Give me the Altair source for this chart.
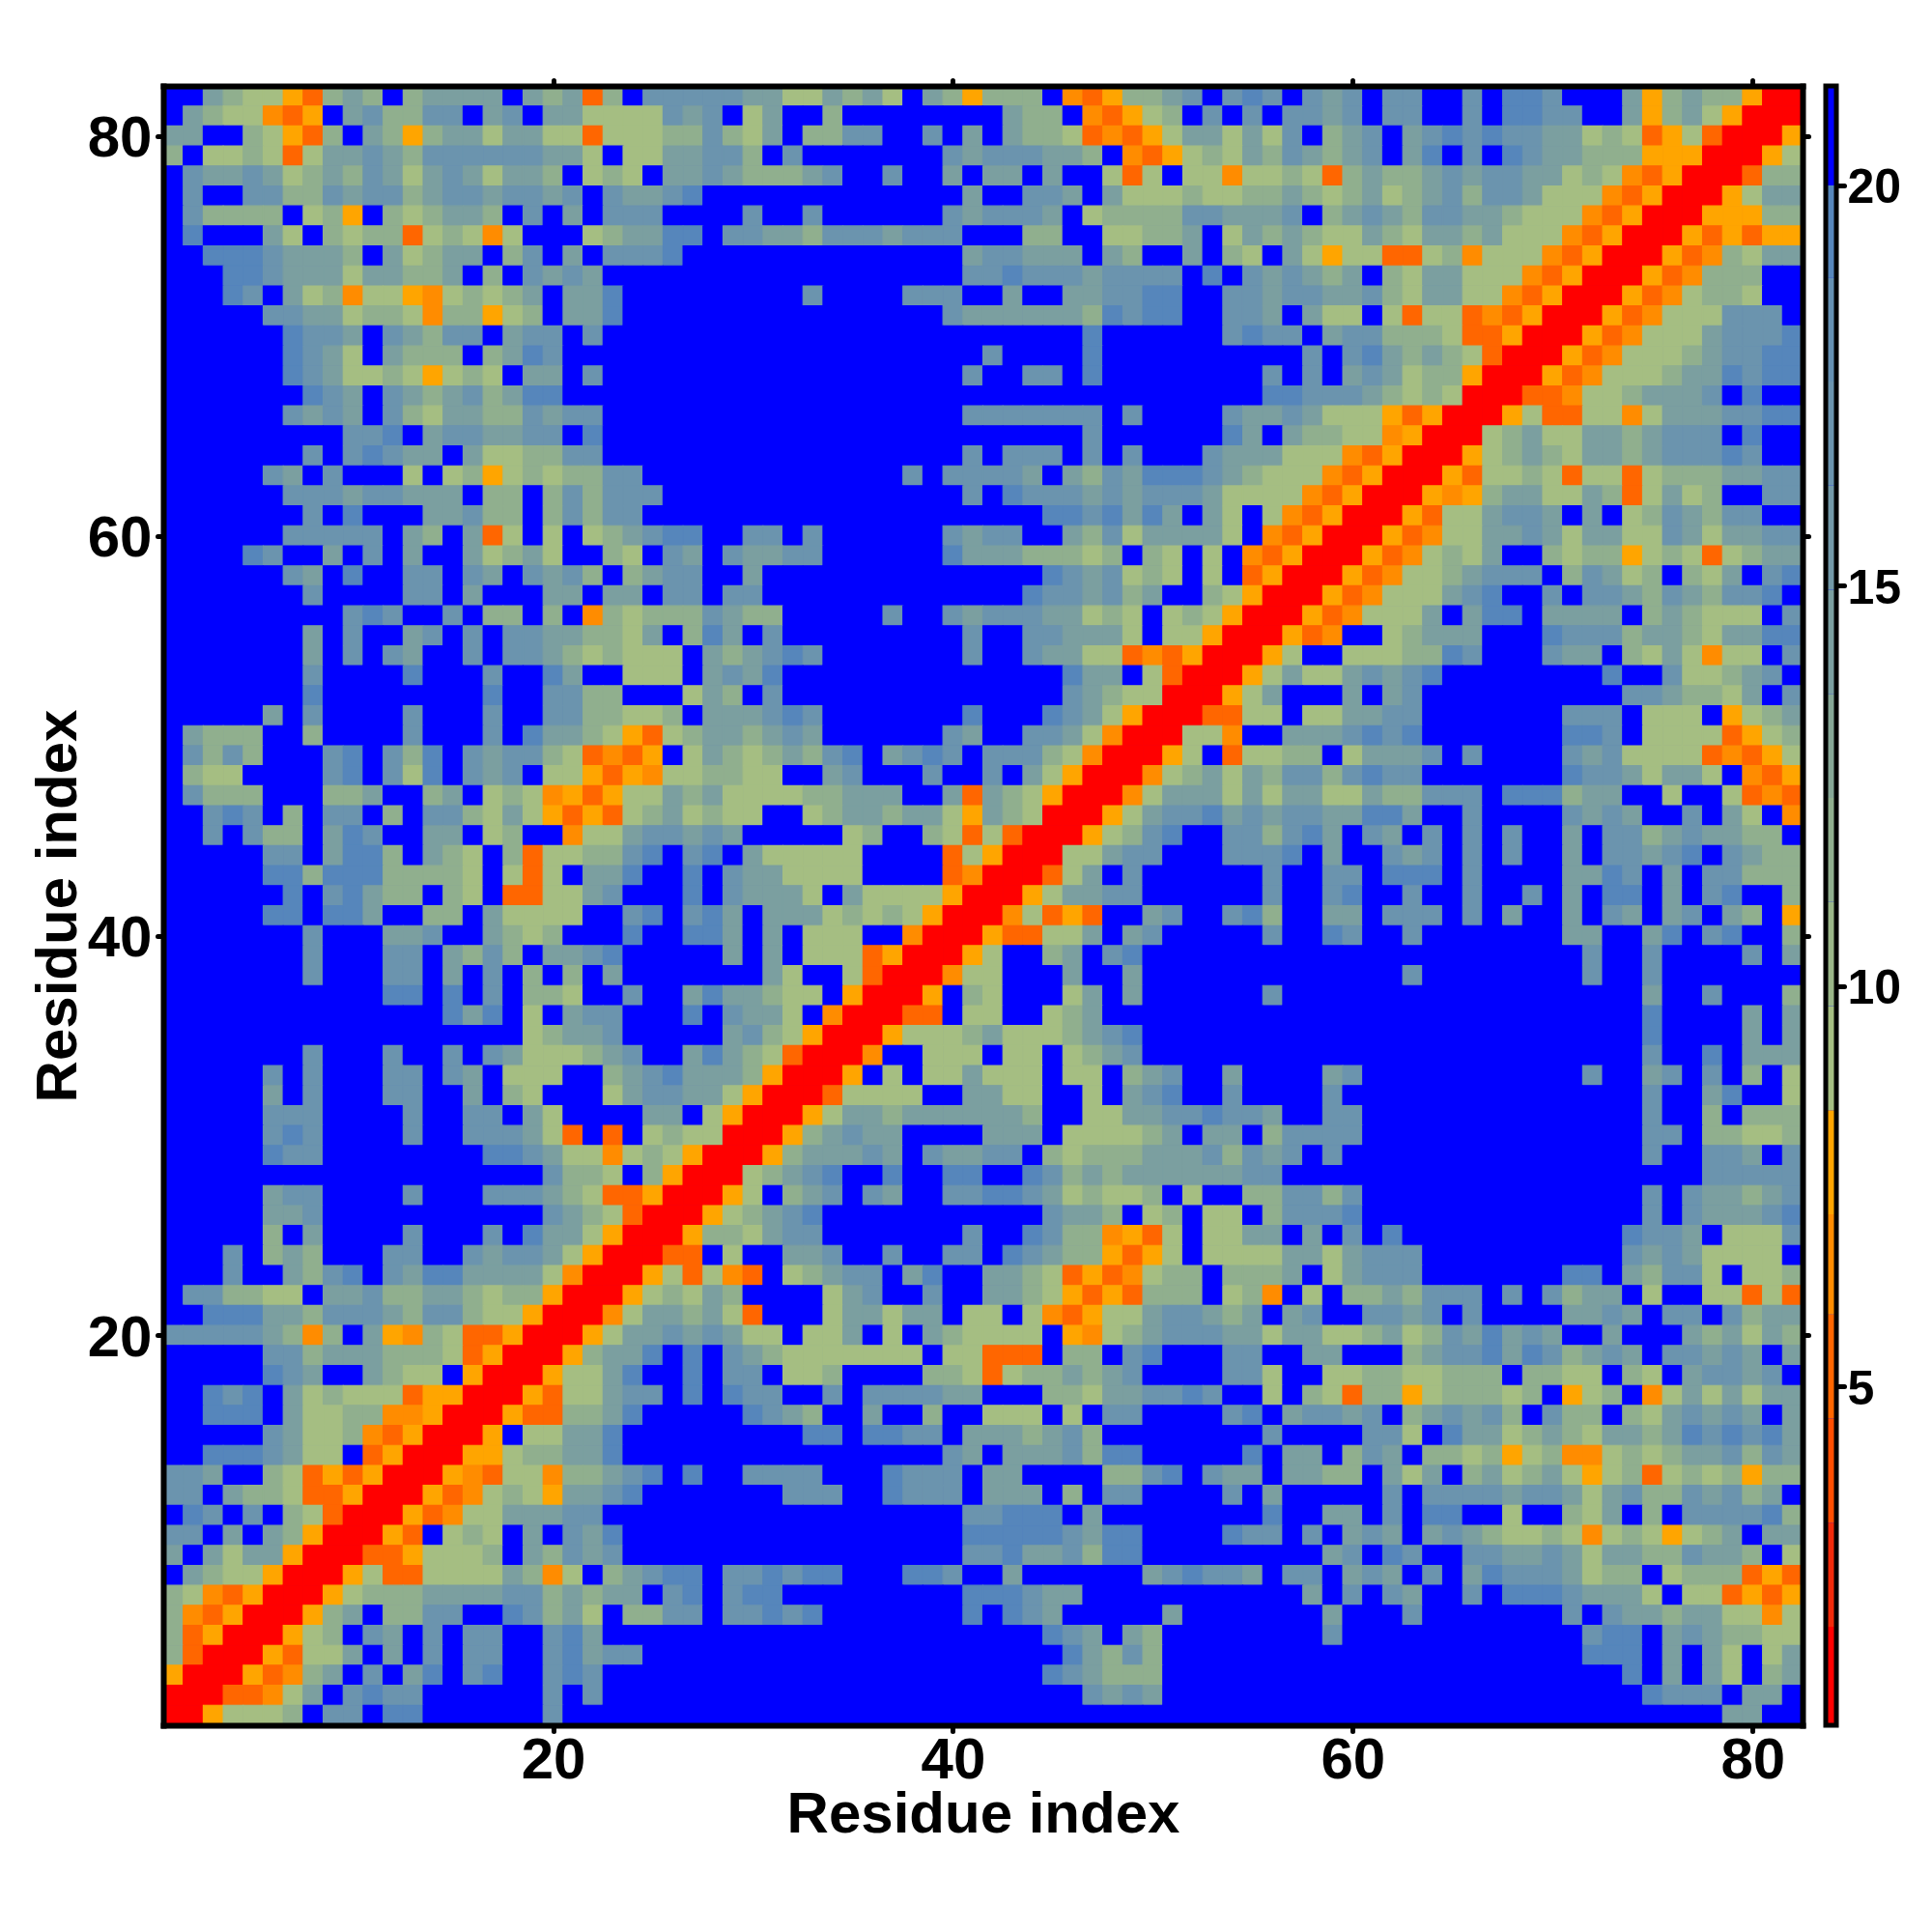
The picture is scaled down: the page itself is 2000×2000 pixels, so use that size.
import altair as alt
import pandas as pd

alt.data_transformers.disable_max_rows()

# Each list has one string per residue row, from row 82 (top) down to row 1.
# Letters are colour bands of the distance.
LEFT = [
"BBcbaaYobcbBbccccBcbcobBdddd","BcbaaOoYBcdbbddBcdBccaaaadcd","ccBBbaYobBcbYbccaccaaoaaabbd","bBaabaoaccdcbddddddccaBaaccd",
"BdccdcabcbdcacdcaccbBabaBccd","BdBBddbbdcddbcddcddcdBdccdeB","BdbbbbBabYBbabccbBdBcBdddBBB","BeBBBcaBbabboabaOaBBBabcceeB",
"BBeeedcccbBcabccBbdBcBdddeBB","BBBeedcccaccbbcBbBdcdcBBBBBB","BBBedBcabOaaYOababcBcceBBBBB","BBBBBddccabbaObbYabBcceBBBBB",
"BBBBBBeddcBdcbddBcddBdBBBBBB","BBBBBBedcaBcbbbBbcedBBBBBBBB","BBBBBBedcaabaYabaBccBdBBBBBB","BBBBBBBedcBdcbcdbceeBBBBBBBB",
"BBBBBBdcdcBdbaccbbdcddBBBBBB","BBBBBBBBBddeBcddccddBeBBBBBB","BBBBBBBdBdedccBcaabbddBBBBBB","BBBBBdcBdBBBaBabYababbddBBBB",
"BBBBBBdddcddcccBbbBbdbdddBBB","BBBBBBBdBeBBBccdbbBbdbddBBBB","BBBBBBdddddBcbBcoaBaBabcdeeB","BBBBedBBcBdBcBBcabcaBBbaBdcB",
"BBBBBBdcBeBBddBdcBdcdbBbcddB","BBBBBBBdBBBBddBcBBBccBccBddB","BBBBBBBBBdedBBdBbbBbBObabbbd",
"BBBBBBBcBdBBcdBdBddccbbacBbe","BBBBBBBcBdBdcBBdBddcbabaaaBc","BBBBBBBdBBBBeBBBdBBecBBaaaBc","BBBBBBBeBBBBBBBBeBBddbbBBBac",
"BBBBBcBdBBBBdBBBdBBddbbaabBc","BcbbbBBbBBBBdBBBdBeccbaYoabc","BdbdbBBBdeBdbeBdcddbaoOoYBac","BbaaBBBBdeBdaeBdcdBaaYoYOaab",
"BdbbbBBBbbcBBbcBabaOYoYaacbc","BBdedBbBddBbBddbacaYoYoabcab","BBdBdbbBcedBBccBabBBOaacddcd","BBBBBddBceebBcbaBboaabbdeBde",
"BBBBBeebeeebbbbaBaoaBcceBBeB","BBBBBBeBdecbbBbaBooaacdBBBeB","BBBBBeeBeecBBbbBcaaaaBBdeBde","BBBBBBBdBBBccdBBcbabBBBeBBee",
"BBBBBBBdBBBddBcbdbBccdeBBBBB","BBBBBBBdBBBddBcBdBbBbBcBBBBB","BBBBBBBBBBBeeBeBdBbbaBBdBBce","BBBBBBBBBBBBBBeceBaBcddBBBeB",
"BBBBBBBBBBBBBBBBBBabccdBBBBB","BBBBBBBdBBBdBBdBdcaaabcdBBce","BBBBBdBdBBBddBdcBaaaBBbcdecc","BBBBBcBdBBBddBBcBbaBBBacddcc",
"BBBBBdddBBBBdBBddBcaBBBBccBa","BBBBBdedBBBBdBBdddcaoBoBabaa","BBBBBeddBBBBBBBBeedcaaOabaYR","BBBBBBBBBBBBBBBBBBBdbbaBbYRR",
"BBBBBcddBBBBdBBBdddcbaooYRRR","BBBBBccdBBBBBBBBBBBdcbaoRRRY","BBBBBbBcBBBBdBBBdBeccaYRRRYb","BBBdBbcbBBBddBBdcddcaYRRRooB",
"BBBdBBcbdeBdceeccccaORRRYaoa","BddbbaaBccdbbccbabbYRRRYabac","BBeeeccbdddcbddbaaYRRROaccbc","dddddcbObBcYObaooYRRRYaccdcd",
"BBBBBddbcccbbbaoYRRRYbcceBeB","BBBBBedcBBcbaaBYRRRYaaceBBeB","BBedeBcabaaaoYYRRRYoaacddBeB","BBeeeBcaabbOOYRRRYoobbceBBBB",
"BBBBBdcaabOoYRRRYBaacceBBBBB","BBeeedcaaBoYRRRYYabbcceBBBBB","ddcBBbaoYoYRRRYOoaaObbcdeBeB","ddBcbbaooYRRRYoOabaYccdeBBBB",
"BedBdBbaoRRRYoOaacccddBBBBBB","ddBcBcbYRRRYoBabaBcBdceBBBBB","cBcaccYRRRooYaaabBcbdcdBBBBB","BcbaaYRRRYaooaaaacbOaBbcdeeB",
"baOoYRRRYabbbccccddbcbccBdeB","bOoYRRRYbcBbbddBBedbcaBbbddB","boYRRRYabBdcBdBddBBdecBBBBBB","boRRRYoaacBcBdBddBBdecddBBBB",
"YRRRYoObcBdBceBdeBBdedBBBBBB","RRRooOacBdeddBBBBBBdBdBBBBBB","RRYaaabBddBeeBBBBBBdBBBBBBBB",
]
MID = [
"dccaacbcaBcbYbbbBOoYbbcdBde","BacBBbBBBBBBBBcbbBOoYabBdBd","bacBbbddBBdBcBcbbaoOoYaccac","dbBdBBBBBBBdcdddccbBOoYabac",
"cbbbcdBBdBBcBccBcBBaoaBaaOa","BBBBBBBBBBBBcBBddcBcaaabaab","BdBBdBBBBBBdcdddcBabbbbddcc","ddccbdddcdddBBBbbBBaabbcBac",
"BBBBBBBBBBBBcddcccBcbBBcBba","BBBBBBBBBBBBddedddcddddBeBd","BBBBdBBBBdddBBcBBccddeeBBdd","BBBBBBBBBBBdccccccbedeeBBdd",
"BBBBBBBBBBBBBBBBBBeBBBBBBde","BBBBBBBBBBBBBdBBBBeBBBBBBBB","BBBBBBBBBBBBdBBddBeBBBBBBBB","BBBBBBBBBBBBBBBBBBBBBBBBBBB",
"BBBBBBBBBBBBdddddddBdBBBBdc","BBBBBBBBBBBBBBBBBBdBBBBBBec","BBBBBBBBBBBBdBdddBdBdBBBdcc","BBBBBBBBBdBddddcBcbdceeedcb",
"BBBBBBBBBBBBdBedddcdcdddcaa","BBBBBBBBBBBBBBBBeedececBcaB","BddBdBBBBBBdcddBBcbdaccccaB","dccddBBBBBBecccbbbabBbaBaBO",
"BcBBBBBBBBBBBBBBedcdabaBaBo","ddBBBBBBBBBBBBBeddcdbcBBbaY","cbbBBBBBdBBdcdddccabaBabaYR",
"cBdBBBBBBBBBdBBddcccaBaaYRR","bcdedBBBBBBBdBBdccaaoOoYRRR","dceBBBBBBBBBBBBBBeccBaoRRRY","bBdBBBBBBBBBBBBBBdcbaaRRRYa",
"ccdedBBBBBBBeBBBedcaYRRRooa","cbcdcBBBBBBdcBBddcaORRRaaOB","babcbdeBcdedBdddbaORRRYaBoa","baaBBcdBBBdBBdBcaYRRROabcac",
"aaaabbcccBBcocbaYRRROacccac","aaBBabccbccaYcbaRRRYacddecd","cBBBBBabBBbaoaoRRRYabdeBBdd","BcaaaaaBBBBoaYRRRaacddBBBdd",
"dccaaaaBBBBoORRRoacBdBBBBBB","dcccaBcaaaaYRRRYaccddBBBBBB","cBcccababaYRRROaoYoBBcdBBde","cBcBaaaBBORRRYooaacBcdBBBBB",
"cBcBaaaoYRRRYaBBbcBdeBBBBBB","BBcaBBaoRRROaaBBBcBBcBBBBBB","ccbaaBYRRRYBbaBBBacBcBBBBBB","dccaBORRRooBaaBBabcBBBBBBBB",
"cdbaYRRRYaaabcaaabcdeBBBBBB","cbaoRRROBBaaaBaaBabcdBBBBBB","cbYRRRYBaBaacaaaBaaBbcdBBcB","aYRRRoaaaaBBccaaBBaBcdeBBdB",
"YRRRYaccbccccccbBBaaccddedd","RRRYbcdccBBBBcccBaaaabcBccB","RRYbcccdcBdccddBbabbbcccdbd","RabcdeBBeBBeeBBedbcbccccccd",
"YaBbcdBdcBBddeedcabaabBaBBb","abcdeBBBBBBBBBBBdccbBabBaaB","bacddBBBBBBBdBBedbbOYoaBaac","aBBccdBBdBBddBedcbbYoYaBaaa",
"OoBabcddBceBBccbaoYoOabbBbb","bBBBBacdBBdBBccbaYoYobbbBab","aoBBBaccaccBaaBaOoYaacddcbc","caaBaacBaBcbaaaaBYOabcdddcc",
"dcbaaaaaaaBaaoooBbbBdeBBBdd","ddBaabBBBBbbaoabbcbcdBBBBdd","eddBBdBddddccBBBbbaccddedBB","BedcbBBcBBbBBaaaBaBddBBBBde",
"BBBBeeBeeddBcccbcdbBBBBBBBB","BBBBBBBBBBBdcBcccdbeeBBBBBe","BddddBBBedddBccBBBBbbdeBdcc","BBBdddBBedddBcccBbBddBBBBdB",
"BBBBBBBBBBBBddeeeBcBBBBBBBB","BBBBBBBBBBBBeeeeedceeBBBBed","BBBBBBBBBBBBddeccdbeeBBBBBB","ddedeeBBBeedBBcBBBBBBcdeddc",
"deeBBBBBBBBBeeedccBBBBBBBBB","ddedeBBBBBBBeBedcBBBBBcBBBB","BBBBBBBBBBBBBBBBedcBcbBBBBB","BBBBBBBBBBBBBBBBBecbdbBBBBB",
"BBBBBBBBBBBBBBBBedcbbbBBBBB","BBBBBBBBBBBBBBBBBBdcdcBBBBB","BBBBBBBBBBBBBBBBBBBBBBBBBBB",
]
RIGHT = [
"dBdcdBddBBdBeedBBBcYbcbbYRR","BddcdBddBBdBeeddBBcYbcaYRRR","adBbcdBcdededdccabaoYaoRRRY","bdcbcdBceBdBedccbbbYYYRRRYa",
"abaobcbbcdcddccabaOoYRRRobb","bcbabcabcdbddcaaaOoYRRRYacc","cdBbcdcbddccbaaaOoYRRRYYYbb","bcbaacbaccbcaaaOoYRRRYoYoYY",
"BcaYaaooabOaaaOoYRRRYoObacc","cdcbcBbaccaaaOoYRRRYoObbbBB","cddccdbaccaaOoYRRRYoOabbaBB","cBcaaBaoaaoOoYRRRYoOaaadddB",
"ddBcddbbbaooYRRRYoOaaacddde","BBdBdecbcbaoRRRYoOaaabcddee","dBdBcdcabbYRRRYoOaaabccedee","eedddcbabaRRRooOaabcccdBeBB",
"cdcaaaYoYRRRYaooaaOacccddee","BcbbaaOYRRRabcaaccbcdddBeBB","caaaOoYRRRYabcbaccbcdddedBB","aaaOoYRRRYoaabaoaaoabbbccdd",
"aaOoYRRRYOYbccaacboacabBBdd","aOoYRRRYoaacddcBcBabdcbddBB","OoYRRRYoOaaccdcaccaadcaccdd","oYRRRYoOabacBBbabbYabaoabcc",
"YRRRYoOaabcdddBbdcabBbacBde","RRRYoOaaacdeBBdBddcbdcbddeB","RRYoOaaacBceeBccccBbcbaaaBd",
"RYoOBBabcccBBBedddbccbaccee","YaBBaaabbedBBBdccBbacaOaaBd","acaacdcdeBBBBBBBBeBBdaabcdB","cBBBcBcdBBBBBBBBBBddcbbacBd",
"aBaaccddBBBBBBBdddBaaaBYabc","BcccdedeBBBBBBBeedBaaaaoYab","abbBacccdBdBBBBdcdaaaaoOoYa","bddbdeddBBBBBBBeddcaccaBOoY",
"accaacbbdddBeeebccBBaBBaoOo","cddcceecBBdBBBBdcdcBBdBcaBO","bdecBdcBdBdBdBBcBddbcdccbbB","deBcBBdcdBdBdBBcBddcdeBdcbb",
"dBBddBeeeBdBBBBccedBcBddbbb","dBBdeBBdBBdBBdBcBeeBcBdeBBb","bBBccBdddBdBcBBcBdcBcdBcbBY","dBBedBBdBBBBBBBccBBceBdeBBb",
"BBBBBBBBBBBBBBBBdBBdBBBBdBc","BBBBBBBdBBBBBBBBdBBdBBBBBBB","dBBBBBBBBBBBBBBBBBBcBBdBBBb","BBBBBBBBBBBBBBBBBBBeBBBBcBc",
"BBBBBBBBBBBBBBBBBBBeBBBBcBc","BBBBBBBBBBBBBBBBBBBdBBeBccc","BBBcdBBBBBBBBBBBdBBcdBdBbBa","BBBdBBBBBBBBBBBBBBBdBBceBBa",
"cBBddBBBBBBBBBBBBBBdBBbBbbb","bddddBBBBBBBBBBBBBBddBbbaab","cdBdBBBBBBBBBBBBBBBdBBddcBd","dBBBBBBBBBBBBBBBBBBBBBddddd",
"bddbdBBBBBBBBBBBBBBdBdccbcd","bdddeBBBBBBBBBBBBBBdBdcccde","cBcBdBeBBBBBBBBBBBeddcBaaad","accacdddBBBBBBBBBBdcdcaaaaB",
"bcBacdddBBBBBBBeeBcbddaBaab","OBaBbbcbdddBdBdbccBaBBaaoao","BcdBBddcdBdBBBBccdcBddBdbcc","accaabcabdcecdcBBcBBBcbcacb",
"BBccBBBbcddecedbcdcBddcdcBc","aBBaabbaabbbBbbaaBbaBcddcdB","aBbaobbYabbbabBYabBOacacacc","BcddcdBbcdcdbBdbbBbacdcdcBc",
"dBBBBddaBeccabcbaccbcededec","BccBbdcBbbabYabOOababccdbdc","BccbbBcacBbcabcaYaboababYbb","cBBBBBdBddddcddcacdbbdcdbcB",
"eBBccBdBeeBBaBBbacBbBddddeb","dBdBcdcBcdcbaabaOabaYabcBcc","BBBcdBedBBddccdcaccbbdccbBa","BddBcdcBdBcedddcabbBabbboYo",
"BBcBdBdcBBdBeeedcccaBaaoYoY","BBBcBBBdBBBBBBBdBdccbccaaOa","BBBdBBBBBBBBBBBBdeeBcdcbbaa","BBBBBBBBBBBBBBBBeeeBcBcaBac",
"BBBBBBBBBBBBBBBBBBeBcBcaBbc","BBBBBBBBBBBBBBBBBBBedddBccB","BBBBBBBBBBBBBBBBBBBBBBBccBB",
]
BAND_VALUE = {"R": 2.0, "o": 5.3, "O": 6.5, "Y": 7.8, "a": 9.5, "b": 11.5, "c": 14.0, "d": 16.5, "e": 19.0, "B": 21.0}
THRESHOLDS = [4.6, 5.9, 7.15, 8.45, 10.5, 13.0, 15.5, 18.0, 20.0]
BAND_COLORS = ["#FF0000", "#FF6600", "#FF8C00", "#FFA500", "#A5BE82", "#90AF8E", "#7B9FA0", "#6B94AE", "#5686BB", "#0000FF"]

BAR_EDGES = [0.77, 2.0, 3.3, 4.6, 5.9, 7.15, 8.45, 9.75, 11.05, 12.35, 13.65, 14.95, 16.25, 17.55, 18.85, 20.0, 21.24]
BAR_COLORS = ["#FF0000", "#F02A0A", "#FF4D00", "#FF6600", "#FF8C00", "#FFA500", "#A5BE82", "#9AB688", "#90AF8E",
              "#86A796", "#7B9FA0", "#7399A8", "#6B94AE", "#6590B2", "#5686BB", "#0000FF"]
TICKS = [20, 40, 60, 80]
BAR_TICKS = [5, 10, 15, 20]
N = 82
SIZE = 1697
FONT = "Liberation Sans"

cells = []
for k, (a, b, c) in enumerate(zip(LEFT, MID, RIGHT)):
    row = (a + b + c).ljust(N, "B")[:N]
    for j, ch in enumerate(row):
        cells.append({"x": j + 0.5, "x2": j + 1.5, "y": N - k - 0.5, "y2": N - k + 0.5, "v": BAND_VALUE[ch]})
cells = pd.DataFrame(cells)

sx = alt.Scale(domain=[0.5, 82.5], nice=False, zero=False)
sy = alt.Scale(domain=[0.5, 82.5], nice=False, zero=False)
col = alt.Scale(type="threshold", domain=THRESHOLDS, range=BAND_COLORS)
common = dict(values=TICKS, grid=False, tickSize=6, tickWidth=5, tickColor="black", tickCap="round",
              domainWidth=6, domainColor="black", domainCap="square", zindex=1)

heat = alt.Chart(cells).mark_rect(strokeWidth=1.1).encode(
    x=alt.X("x:Q", scale=sx, axis=alt.Axis(title="Residue index", orient="bottom", labelFont=FONT, labelFontSize=60,
            labelFontWeight="bold", labelColor="black", titleFont=FONT, titleFontSize=60, titleFontWeight="bold",
            titleColor="black", format="d", labelPadding=1, titlePadding=-3, labelFlush=False, **common)),
    x2="x2:Q",
    y=alt.Y("y:Q", scale=sy, axis=alt.Axis(title="Residue index", orient="left", labelFont=FONT, labelFontSize=60,
            labelFontWeight="bold", labelColor="black", titleFont=FONT, titleFontSize=60, titleFontWeight="bold",
            titleColor="black", format="d", labelPadding=6, titlePadding=-1, labelOffset=3, labelFlush=False, **common)),
    y2="y2:Q",
    color=alt.Color("v:Q", scale=col, legend=None),
    stroke=alt.Stroke("v:Q", scale=col, legend=None),
)
ticks_df = pd.DataFrame({"t": TICKS})
ghost = alt.Chart(ticks_df).mark_point(opacity=0).encode(
    x=alt.X("t:Q", scale=sx, axis=alt.Axis(title=None, orient="top", labels=False, **common)),
    y=alt.Y("t:Q", scale=sy, axis=alt.Axis(title=None, orient="right", labels=False, **common)),
)
main = alt.layer(heat, ghost).resolve_axis(x="independent", y="independent").properties(width=SIZE, height=SIZE)

bar_df = pd.DataFrame({"lo": BAR_EDGES[:-1], "hi": BAR_EDGES[1:], "c": BAR_COLORS})
sb = alt.Scale(domain=[BAR_EDGES[0], BAR_EDGES[-1]], nice=False, zero=False)
bar = alt.Chart(bar_df).mark_rect().encode(
    x=alt.value(0), x2=alt.value(11),
    y=alt.Y("lo:Q", scale=sb, axis=alt.Axis(title=None, orient="right", values=BAR_TICKS, grid=False, domain=False,
            tickSize=8, tickWidth=5, tickColor="black", tickCap="round", labelFont=FONT, labelFontSize=50,
            labelFontWeight="bold", labelColor="black", labelPadding=3, labelOffset=3, format="d")),
    y2="hi:Q",
    color=alt.Color("c:N", scale=None),
)
frame = alt.Chart(pd.DataFrame({"f": [0]})).mark_rect(fill=None, stroke="black", strokeWidth=5).encode(
    x=alt.value(0), x2=alt.value(11), y=alt.value(0), y2=alt.value(SIZE),
)
cbar = alt.layer(bar, frame).properties(width=11, height=SIZE)

chart = alt.hconcat(main, cbar, spacing=12).configure_view(stroke=None, fill="#0000FF").properties(
    padding={"left": 22, "top": 72, "right": 5, "bottom": 5}, background="white")
chart.save("out.html", embed_options={"renderer": "svg", "actions": False})
